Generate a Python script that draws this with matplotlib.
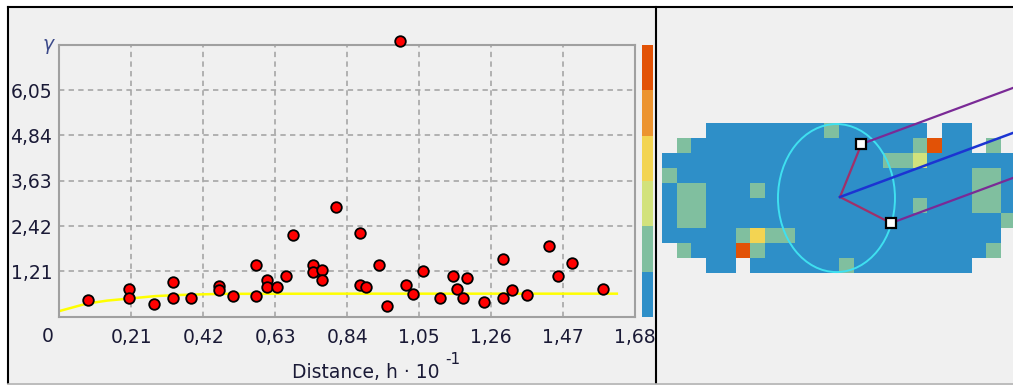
#!/usr/bin/env python3
# -*- coding: utf-8 -*-
"""
Variogram panel (scatter + model curve + class colorbar) next to the
class map with the search ellipse and direction lines.
Saves out.png (1013x385).
"""

import numpy as np
import matplotlib
matplotlib.use("Agg")
import matplotlib.pyplot as plt
from matplotlib.colors import ListedColormap
from matplotlib.patches import Ellipse, Rectangle

# ============================================================================
# Data
# ============================================================================
# experimental semivariogram points (distance h*10^-1, gamma)
DIST_H = [0.085, 0.204, 0.204, 0.276, 0.331, 0.331, 0.383, 0.467, 0.467, 0.506,
          0.574, 0.574, 0.605, 0.605, 0.634, 0.661, 0.683, 0.739, 0.739, 0.766,
          0.766, 0.807, 0.877, 0.877, 0.895, 0.933, 0.957, 0.994, 1.012, 1.031,
          1.062, 1.111, 1.148, 1.160, 1.179, 1.191, 1.239, 1.294, 1.294, 1.321,
          1.364, 1.430, 1.456, 1.495, 1.586]
GAMMA = [0.45, 0.75, 0.51, 0.33, 0.92, 0.50, 0.51, 0.81, 0.72, 0.56,
         1.37, 0.56, 0.97, 0.79, 0.79, 1.08, 2.17, 1.37, 1.19, 1.26,
         0.97, 2.93, 2.23, 0.85, 0.79, 1.37, 0.28, 7.35, 0.85, 0.61,
         1.21, 0.51, 1.08, 0.75, 0.50, 1.02, 0.39, 1.55, 0.51, 0.70,
         0.57, 1.89, 1.08, 1.43, 0.75]

# fitted model curve
MODEL_H = [0.0, 0.04, 0.08, 0.14, 0.21, 0.28, 0.35, 0.47, 0.80, 1.20, 1.627]
MODEL_GAMMA = [0.15, 0.25, 0.35, 0.43, 0.49, 0.55, 0.58, 0.61, 0.615, 0.615, 0.615]

X_TICKS = [0.21, 0.42, 0.63, 0.84, 1.05, 1.26, 1.47, 1.68]
X_TICK_LABELS = ["0,21", "0,42", "0,63", "0,84", "1,05", "1,26", "1,47", "1,68"]
Y_TICKS = [1.21, 2.42, 3.63, 4.84, 6.05]
Y_TICK_LABELS = ["1,21", "2,42", "3,63", "4,84", "6,05"]
X_MAX = 1.68
Y_MAX = 7.26

# class colours, low -> high
CLASS_COLORS = ["#2E8FC8", "#80BF9F", "#D2E27C", "#F3D452", "#EC9430", "#E25206"]

# class map, '.' = no data, '1'..'6' = class
CLASS_MAP = [
    "..." "11111111" "2" "111111" "." "11" "...",
    ".2" "111111111111111" "2" "6" "11" "." "2" ".",
    "111111111111111" "22" "3" "111111",
    "2" "11111111111111111111" "22" "1",
    "1" "22" "111" "2" "11111111111111" "22" "1",
    "1" "22" "11111111111111" "2" "111" "22" "1",
    "1" "22" "11111111111111111111" "2",
    "11111" "2" "4" "22" "11111111111111" ".",
    ".2" "111" "6" "2" "111111111111111" "2" ".",
    "..." "11" "." "111111" "2" "11111111" "...",
]

# search ellipse and direction lines, in map cell units
ELLIPSE_CENTER = (11.87, 5.0)
ELLIPSE_SIZE = (7.96, 9.87)
FOCUS = (12.11, 4.93)
CORNERS_X = [13.57, 15.58]
CORNERS_Y = [1.4, 6.67]
DIR_SLOPE = -0.363
DIR_END_X = 25.0

# ============================================================================
# Style
# ============================================================================
BG = "#F0F0F0"
TXT = "#1A1A36"
GRID = "#A0A0A0"
FS = 13.5
W, H = 1013, 385


def fx(px):
    return px / W


def fy(py):
    return 1 - py / H


def draw_frame(fig):
    ax = fig.add_axes([0, 0, 1, 1], zorder=-10)
    ax.set_xlim(0, W)
    ax.set_ylim(H, 0)
    ax.axis("off")
    ax.add_patch(Rectangle((8, 7), W - 8, 376, facecolor=BG, edgecolor="none"))
    ax.plot([8, W], [7, 7], color="black", lw=1.5)
    ax.plot([8, 8], [7, 383], color="black", lw=1.5)
    ax.plot([656, 656], [7, 383], color="black", lw=1.5)
    ax.plot([8, W], [383.5, 383.5], color="#B0B0B0", lw=1.2)


def draw_variogram(fig):
    left, right, top, bottom = 59.3, 635, 44.8, 316.7
    ax = fig.add_axes([fx(left), fy(bottom), fx(right - left), (bottom - top) / H])
    ax.set_facecolor(BG)

    ax.plot(MODEL_H, MODEL_GAMMA, color="#FFFF00", lw=1.8, zorder=2)
    ax.scatter(DIST_H, GAMMA, s=58, color="#FF0000", edgecolor="black",
               linewidth=1.3, zorder=3, clip_on=False)

    ax.set_xlim(0, X_MAX)
    ax.set_ylim(0, Y_MAX)
    ax.set_xticks(X_TICKS)
    ax.set_xticklabels(X_TICK_LABELS)
    ax.set_yticks(Y_TICKS)
    ax.set_yticklabels(Y_TICK_LABELS)
    ax.tick_params(length=0, labelsize=FS, labelcolor=TXT)
    ax.tick_params(axis="x", pad=8)
    ax.tick_params(axis="y", pad=5)
    ax.grid(True, color=GRID, linestyle=(0, (3.5, 2.8)), linewidth=1.1)
    for sp in ax.spines.values():
        sp.set_color(GRID)
        sp.set_linewidth(1.5)

    # origin label and the gamma label at the top of the y axis
    ax.text(-11.3 / (right - left), -20.3 / (bottom - top), "0", transform=ax.transAxes,
            ha="center", va="center", fontsize=FS, color=TXT)
    ax.text(-6 / (right - left), 1.0, "γ", transform=ax.transAxes,
            ha="right", va="center", fontsize=FS, color="#3C4A8A", style="italic")

    # axis title with the raised exponent
    ax.text((291.7 - left) / (right - left), -(378 - bottom) / (bottom - top),
            "Distance, h · 10", transform=ax.transAxes,
            ha="left", va="baseline", fontsize=FS, color=TXT)
    ax.text((445 - left) / (right - left), -(364 - bottom) / (bottom - top),
            "-1", transform=ax.transAxes,
            ha="left", va="baseline", fontsize=11, color=TXT)

    # class colorbar
    cax = fig.add_axes([fx(642.3), fy(bottom), fx(10.5), (bottom - top) / H])
    levels = np.arange(len(CLASS_COLORS))
    cax.imshow(levels[::-1].reshape(-1, 1), cmap=ListedColormap(CLASS_COLORS),
               aspect="auto", extent=(0, 1, 0, len(CLASS_COLORS)),
               vmin=-0.5, vmax=len(CLASS_COLORS) - 0.5)
    cax.set_xticks([])
    cax.set_yticks([])
    for sp in cax.spines.values():
        sp.set_visible(False)


def draw_map(fig):
    ax = fig.add_axes([fx(657), fy(383), fx(W - 657), 375 / H])
    ax.set_facecolor("none")
    ax.axis("off")

    grid = np.array([[np.nan if ch == "." else float(ch) - 1 for ch in row]
                     for row in CLASS_MAP])
    nrows, ncols = grid.shape
    ax.imshow(grid, cmap=ListedColormap(CLASS_COLORS), vmin=-0.5,
              vmax=len(CLASS_COLORS) - 0.5, interpolation="nearest",
              extent=(0, ncols, nrows, 0), aspect="auto", zorder=1)

    ax.add_patch(Ellipse(ELLIPSE_CENTER, *ELLIPSE_SIZE, fill=False,
                         edgecolor="#3FE0F0", lw=1.4, zorder=3))

    # focus -> corners, then the parallel direction lines
    for cx, cy in zip(CORNERS_X, CORNERS_Y):
        ax.plot([FOCUS[0], cx], [FOCUS[1], cy], color="#A0306A", lw=1.6, zorder=4)
        ax.plot([cx, DIR_END_X], [cy, cy + DIR_SLOPE * (DIR_END_X - cx)],
                color="#7A2A96", lw=1.6, zorder=4)
    ax.plot([FOCUS[0], DIR_END_X], [FOCUS[1], FOCUS[1] + DIR_SLOPE * (DIR_END_X - FOCUS[0])],
            color="#1C34D2", lw=1.8, zorder=4)
    ax.plot(CORNERS_X, CORNERS_Y, linestyle="none", marker="s", markersize=7.5,
            markerfacecolor="white", markeredgecolor="black", markeredgewidth=1.6, zorder=5)

    ax.set_xlim(-0.34, 23.88)
    ax.set_ylim(17.33, -7.67)


def main():
    fig = plt.figure(figsize=(W / 100, H / 100), dpi=100, facecolor="white")
    draw_frame(fig)
    draw_variogram(fig)
    draw_map(fig)
    fig.savefig("out.png", dpi=100, facecolor="white")
    plt.close(fig)


if __name__ == "__main__":
    main()
